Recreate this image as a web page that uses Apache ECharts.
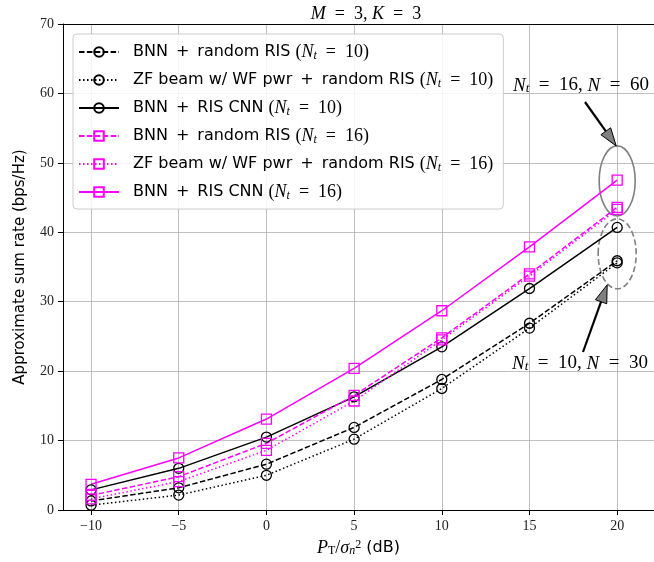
<!DOCTYPE html>
<html>
<head>
<meta charset="utf-8">
<script src="https://cdn.jsdelivr.net/npm/echarts@6/dist/echarts.min.js"></script>
<style>
  html, body { margin: 0; padding: 0; background: #fff; }
  #chart { width: 654px; height: 562px; }
</style>
</head>
<body>
<div id="chart"></div>
<script>
// x: transmit SNR in dB
const snrDb = [-10, -5, 0, 5, 10, 15, 20];
const xTicks = [-10, -5, 0, 5, 10, 15, 20];
const yTicks = [0, 10, 20, 30, 40, 50, 60, 70];

// sum rates (bps/Hz)
const bnnRand10 = [1.3, 3.2, 6.6, 11.9, 18.8, 26.9, 35.9];
const zfRand10 = [0.7, 2.15, 5.0, 10.2, 17.5, 26.2, 35.6];
const bnnCnn10 = [2.9, 6.0, 10.5, 16.3, 23.5, 31.9, 40.7];
const bnnRand16 = [2.1, 4.8, 9.6, 16.5, 24.8, 34.0, 43.6];
const zfRand16 = [1.6, 4.1, 8.6, 15.7, 24.5, 33.7, 43.3];
const bnnCnn16 = [3.7, 7.5, 13.1, 20.4, 28.7, 37.9, 47.5];

const names = [
  'BNN + random RIS (Nt=10)',
  'ZF beam w/ WF pwr + random RIS (Nt=10)',
  'BNN + RIS CNN (Nt=10)',
  'BNN + random RIS (Nt=16)',
  'ZF beam w/ WF pwr + random RIS (Nt=16)',
  'BNN + RIS CNN (Nt=16)'
];

const SANS = 'DejaVu Sans';
const SERIF = 'Liberation Serif';
const EQ = '\u2002=\u2002';

function pair(vals) {
  return snrDb.map((x, i) => [x, vals[i]]);
}

function mkSeries(name, vals, color, type, symbol) {
  return {
    name: name,
    type: 'line',
    data: pair(vals),
    symbol: symbol,
    symbolSize: 10,
    showSymbol: true,
    lineStyle: { color: color, width: 1.5, type: type },
    itemStyle: { color: 'rgba(0,0,0,0)', borderColor: color, borderWidth: 1.3 },
    emphasis: { disabled: true },
    animation: false
  };
}

const richText = {
  t: { fontFamily: SANS, fontSize: 16, color: '#000' },
  m: { fontFamily: SERIF, fontSize: 18, color: '#000' },
  i: { fontFamily: SERIF, fontSize: 18, fontStyle: 'italic', color: '#000' },
  s: { fontFamily: SERIF, fontSize: 12, fontStyle: 'italic', color: '#000', verticalAlign: 'bottom', lineHeight: 12 },
  sr: { fontFamily: SERIF, fontSize: 12, color: '#000', verticalAlign: 'bottom', lineHeight: 12 },
  sup: { fontFamily: SERIF, fontSize: 12, color: '#000', verticalAlign: 'top', lineHeight: 10 }
};

function legendLabel(name) {
  const m = name.match(/^(.*) \(Nt=(\d+)\)$/);
  const txt = m[1].replace(' + ', '\u2002+\u2002');
  return '{t|' + txt + ' }{m|(}{i|N}{s|t}{m|' + EQ + m[2] + ')}';
}

const chart = echarts.init(document.getElementById('chart'));

const option = {
  backgroundColor: '#fff',
  animation: false,
  title: {
    text: '{i|M}{m|' + EQ + '3, }{i|K}{m|' + EQ + '3}',
    left: 361,
    top: 0,
    textAlign: 'center',
    textStyle: { fontWeight: 'normal', rich: richText }
  },
  grid: { left: 63, right: 0, top: 24, bottom: 52, containLabel: false },
  legend: {
    orient: 'vertical',
    left: 73,
    top: 34,
    padding: [8, 10, 7, 5],
    itemWidth: 40,
    itemHeight: 12,
    itemGap: 8,
    backgroundColor: 'rgba(255,255,255,0.85)',
    borderColor: '#cccccc',
    borderWidth: 1,
    borderRadius: 4,
    data: names,
    formatter: legendLabel,
    textStyle: { rich: richText, lineHeight: 20, padding: [0, 0, 0, 9] }
  },
  xAxis: [{
    type: 'value',
    min: -11.6,
    max: 22.1,
    name: '{i|P}{sr|T}{m|/}{i|σ}{s|n}{sup|2}{t| (dB)}',
    nameLocation: 'middle',
    nameGap: 29,
    nameTextStyle: { rich: richText },
    axisLine: { show: true, onZero: false, lineStyle: { color: '#000', width: 1 } },
    axisTick: { show: true, inside: false, length: 5, customValues: xTicks, lineStyle: { color: '#000' } },
    axisLabel: {
      customValues: xTicks,
      margin: 9,
      fontFamily: SERIF,
      fontSize: 14,
      color: '#222',
      formatter: v => String(v).replace('-', '\u2212')
    },
    splitLine: { show: true, lineStyle: { color: '#b0b0b0', width: 0.8 } }
  }, {
    // top spine
    type: 'value',
    position: 'top',
    min: -11.6,
    max: 22.1,
    axisLine: { show: true, onZero: false, lineStyle: { color: '#000', width: 1 } },
    axisTick: { show: false },
    axisLabel: { show: false },
    splitLine: { show: false }
  }],
  yAxis: {
    type: 'value',
    min: 0,
    max: 70,
    interval: 10,
    name: 'Approximate sum rate (bps/Hz)',
    nameLocation: 'middle',
    nameGap: 35,
    nameTextStyle: { fontFamily: SANS, fontSize: 15, color: '#000' },
    axisLine: { show: true, onZero: false, lineStyle: { color: '#000', width: 1 } },
    axisTick: { show: true, inside: false, length: 5, lineStyle: { color: '#000' } },
    axisLabel: { margin: 9, fontFamily: SERIF, fontSize: 14, color: '#222' },
    splitLine: { show: true, lineStyle: { color: '#b0b0b0', width: 0.8 } }
  },
  series: [
    mkSeries(names[0], bnnRand10, '#000000', [5.5, 2.4], 'circle'),
    mkSeries(names[1], zfRand10, '#000000', [1.5, 2.5], 'circle'),
    mkSeries(names[2], bnnCnn10, '#000000', 'solid', 'circle'),
    mkSeries(names[3], bnnRand16, '#ff00ff', [5.5, 2.4], 'rect'),
    mkSeries(names[4], zfRand16, '#ff00ff', [1.5, 2.5], 'rect'),
    mkSeries(names[5], bnnCnn16, '#ff00ff', 'solid', 'rect')
  ]
};

chart.setOption(option);

// annotations: ellipses round the 20 dB points, arrows and labels
function arrow(from, to) {
  const dx = to[0] - from[0], dy = to[1] - from[1];
  const len = Math.sqrt(dx * dx + dy * dy);
  const ux = dx / len, uy = dy / len;
  const hl = 18, hw = 6;
  const bx = to[0] - ux * hl, by = to[1] - uy * hl;
  return [
    { type: 'line', shape: { x1: from[0], y1: from[1], x2: bx, y2: by }, style: { stroke: '#000', lineWidth: 2.2 }, silent: true },
    {
      type: 'polygon',
      shape: { points: [to, [bx - uy * hw, by + ux * hw], [bx + uy * hw, by - ux * hw]] },
      style: { fill: '#808080', stroke: '#000', lineWidth: 1 },
      silent: true
    }
  ];
}

const c16 = chart.convertToPixel({ xAxisIndex: 0, yAxisIndex: 0 }, [20, 47.4]);
const c10 = chart.convertToPixel({ xAxisIndex: 0, yAxisIndex: 0 }, [20, 36.9]);
const ry = 35, rx = 18;

const annoRich = {
  i: { fontFamily: SERIF, fontSize: 19, fontStyle: 'italic', fill: '#000' },
  m: { fontFamily: SERIF, fontSize: 19, fill: '#000' },
  s: { fontFamily: SERIF, fontSize: 13, fontStyle: 'italic', fill: '#000', verticalAlign: 'bottom', lineHeight: 12 }
};

chart.setOption({
  graphic: [
    { type: 'ellipse', shape: { cx: c16[0], cy: c16[1], rx: rx, ry: ry }, style: { fill: 'none', stroke: '#808080', lineWidth: 1.6 }, silent: true },
    { type: 'ellipse', shape: { cx: c10[0], cy: c10[1], rx: rx + 1, ry: ry }, style: { fill: 'none', stroke: '#808080', lineWidth: 1.6, lineDash: [6, 3] }, silent: true }
  ].concat(
    arrow([585, 102], [c16[0] - 1, c16[1] - ry]),
    arrow([583, 352], [c10[0] - 10, c10[1] + ry - 4]),
    [
      {
        type: 'text', left: 513, top: 76,
        style: { text: '{i|N}{s|t}{m|' + EQ + '16, }{i|N}{m|' + EQ + '60}', rich: annoRich },
        silent: true
      },
      {
        type: 'text', left: 512, top: 354,
        style: { text: '{i|N}{s|t}{m|' + EQ + '10, }{i|N}{m|' + EQ + '30}', rich: annoRich },
        silent: true
      }
    ]
  )
});
</script>
</body>
</html>
